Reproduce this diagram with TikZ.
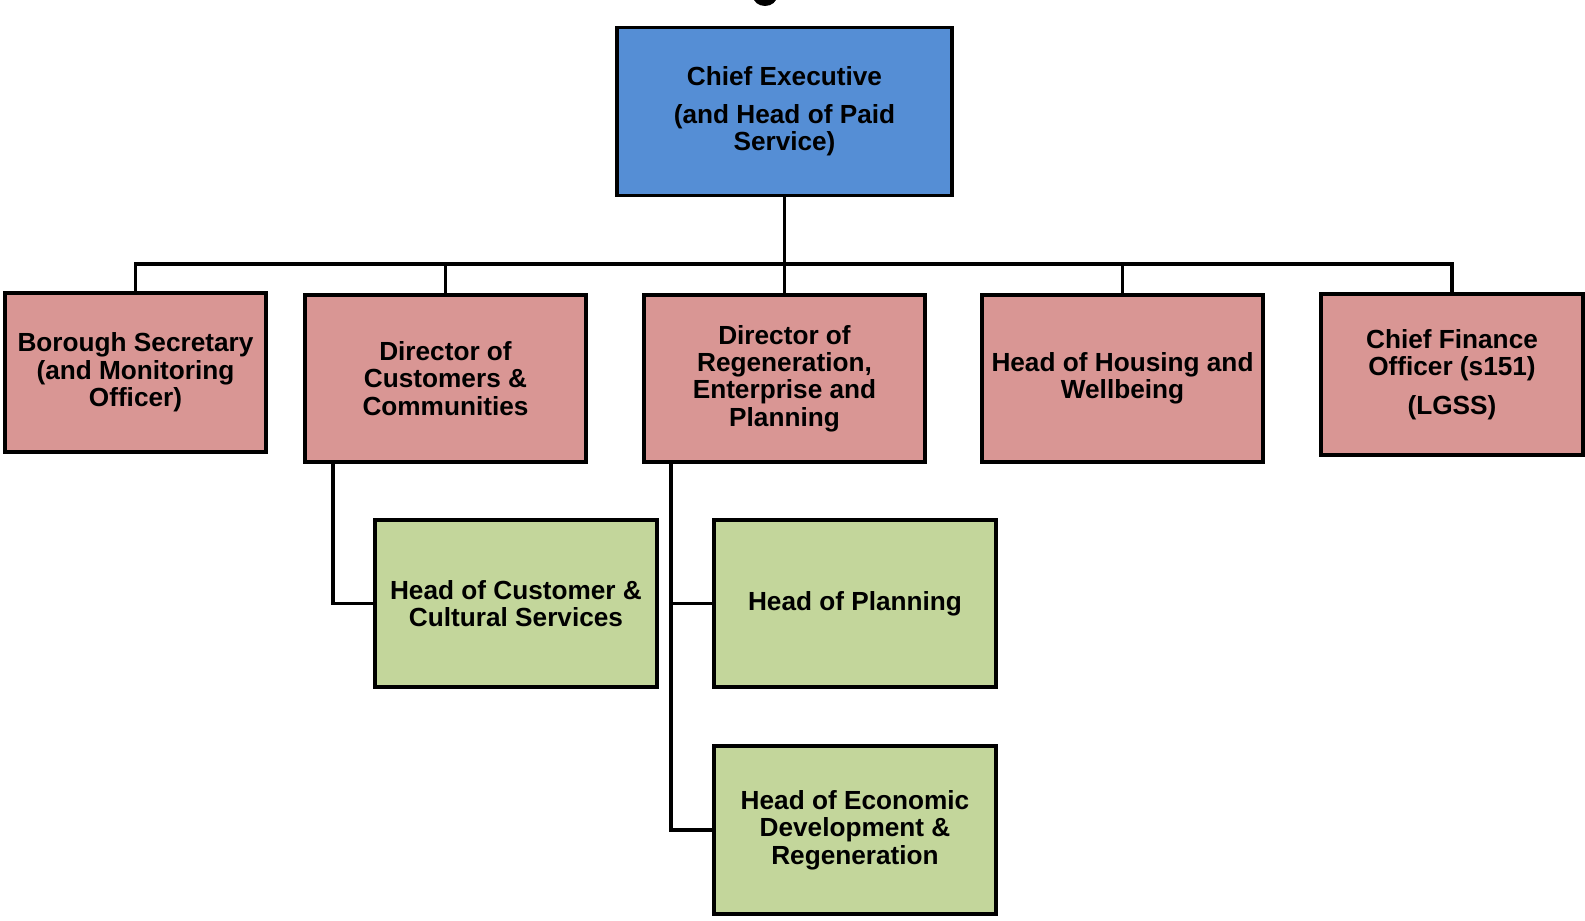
\documentclass[tikz,border=0pt]{standalone}
\usepackage{fontspec}
\setmainfont{Liberation Sans}
\usetikzlibrary{calc}

\definecolor{chiefblue}{HTML}{558ED5}
\definecolor{dirpink}{HTML}{D99694}
\definecolor{headgreen}{HTML}{C3D69B}

\tikzset{
  post/.style={draw, line width=1.8pt, align=center, inner sep=2pt,
    font=\fontsize{13.1}{13.7}\selectfont\bfseries},
  chiefbox/.style={post, fill=chiefblue, minimum width=167.5pt, minimum height=84pt},
  dirbox/.style={post, fill=dirpink, minimum width=140.5pt, minimum height=83.5pt},
  headbox/.style={post, fill=headgreen, minimum width=141pt, minimum height=83.5pt},
  link/.style={line width=1.8pt}
}

\begin{document}
\begin{tikzpicture}[x=0.5pt, y=-0.5pt]

\useasboundingbox (0,0) rectangle (1585,921);

% bit of a cut-off shape at the top edge
\fill[black] (765,-4) ellipse [x radius=12, y radius=10];

\node[chiefbox] (chief) at (784.5,111.5) {Chief Executive\\[5pt] (and Head of Paid\\ Service)};

\node[dirbox, minimum width=130.5pt, minimum height=79.5pt] (borough) at (135.5,372.5) {Borough Secretary\\ (and Monitoring\\ Officer)};
\node[dirbox] (custdir) at (445.5,378.5) {Director of\\ Customers \&\\ Communities};
\node[dirbox] (regen) at (784.5,378.5) {Director of\\ Regeneration,\\ Enterprise and\\ Planning};
\node[dirbox] (housing) at (1122.5,378.5) {Head of Housing and\\ Wellbeing};
\node[dirbox, minimum width=131pt, minimum height=80.5pt] (cfo) at (1452,374.5) {Chief Finance\\ Officer (s151)\\[5.5pt] (LGSS)};

\node[headbox] (custcult) at (516,603.5) {Head of Customer \&\\ Cultural Services};
\node[headbox] (planning) at (855,603.5) {Head of Planning};
\node[headbox, minimum height=84pt] (econ) at (855,830) {Head of Economic\\ Development \&\\ Regeneration};

% top level bus
\coordinate (bus) at (784.5,264);
\draw[link] (chief.south) -- (regen.north);
\draw[link] (borough.north) |- (bus) -| (cfo.north);
\draw[link] (custdir.north) |- (bus);
\draw[link] (housing.north) |- (bus);

% second level
\coordinate (custstem) at ($(custdir.south west)+(30,0)$);
\coordinate (regenstem) at ($(regen.south west)+(29,0)$);
\draw[link] (custstem) |- (custcult.west);
\draw[link] (regenstem) |- (econ.west);
\draw[link] (regenstem |- planning.west) -- (planning.west);

\end{tikzpicture}
\end{document}
